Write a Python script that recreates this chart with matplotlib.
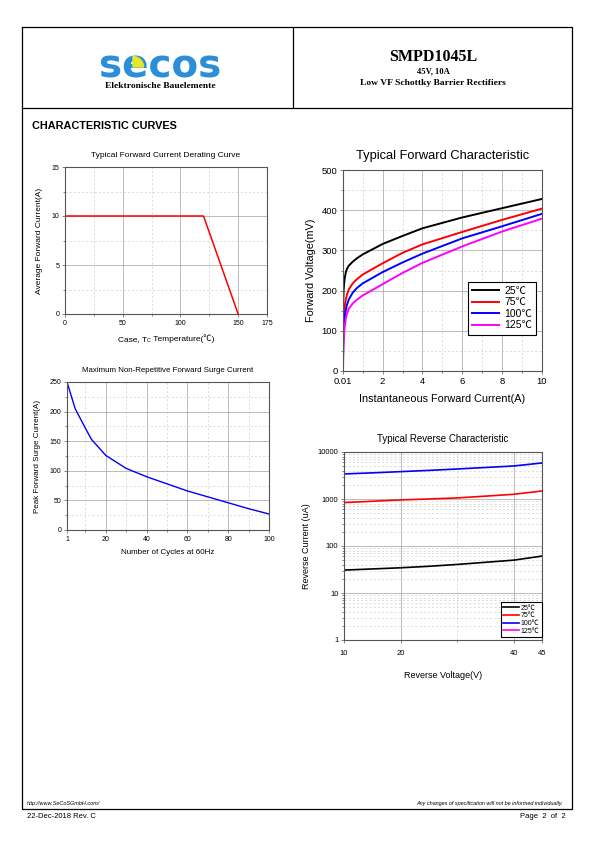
import matplotlib
matplotlib.use('Agg')
import matplotlib.pyplot as plt
from matplotlib.patches import Wedge
from matplotlib.ticker import LogLocator, NullFormatter
from matplotlib.offsetbox import TextArea, HPacker, AnchoredOffsetbox

plt.rcParams['font.family'] = ['Liberation Sans', 'Noto Sans CJK SC', 'DejaVu Sans']

# --- data ---
derate_temp = [0, 120, 150]
derate_amps = [10, 10, 0]

surge_cycles = [1, 5, 10, 13, 20, 30, 40, 50, 60, 70, 80, 90, 100]
surge_amps = [250, 205, 172, 153, 126, 104, 90, 78, 66, 56, 46, 36, 27]

fwd_current = [0.01, 0.02, 0.04, 0.07, 0.1, 0.15, 0.2, 0.3, 0.5, 0.7, 1, 2, 3, 4, 6, 8, 10]
fwd_25 = [120, 170, 200, 220, 232, 245, 253, 262, 272, 280, 290, 316, 336, 355, 382, 405, 428]
fwd_75 = [50, 90, 125, 150, 163, 178, 188, 203, 218, 228, 240, 268, 294, 315, 346, 376, 404]
fwd_100 = [25, 60, 95, 120, 135, 152, 163, 178, 195, 206, 218, 246, 270, 292, 330, 360, 391]
fwd_125 = [0, 35, 70, 97, 112, 130, 141, 155, 168, 177, 188, 216, 244, 269, 310, 347, 379]
fwd_labels = ['25℃', '75℃', '100℃', '125℃']
fwd_colors = ['black', 'red', 'blue', 'magenta']

rev_voltage = [10, 15, 20, 25, 30, 35, 40, 45]
rev_25 = [30.7, 32.5, 34.4, 37, 40.5, 45, 50, 61]
rev_75 = [840, 895, 956, 1000, 1055, 1150, 1260, 1480]
rev_100 = [3410, 3600, 3820, 4060, 4350, 4680, 5040, 5840]

W, H = 595, 842
fig = plt.figure(figsize=(W / 100, H / 100), dpi=100)

# page furniture drawn in pixel coordinates (y grows downwards)
page = fig.add_axes([0, 0, 1, 1], zorder=0)
page.set_xlim(0, W)
page.set_ylim(H, 0)
page.axis('off')

lk = dict(color='black', lw=0.9)
page.plot([22, 572, 572, 22, 22], [27, 27, 809, 809, 27], **lk)
page.plot([22, 572], [108, 108], **lk)
page.plot([293, 293], [27, 108], **lk)

page.text(160, 77, 'secos', ha='center', va='baseline', fontsize=28, fontweight='heavy',
          family='DejaVu Sans', color='#2a8fd8')
# yellow quarter on the "e" (angles run clockwise because y is flipped)
page.add_patch(Wedge((133, 67), 10.5, -90, 0, color='#e6e62a', zorder=3))
serif = dict(family='Liberation Serif', fontweight='bold', ha='center', va='center')
page.text(160, 86.5, 'Elektronische Bauelemente', fontsize=6.8, **serif)
page.text(433, 57, 'SMPD1045L', fontsize=11.5, **serif)
page.text(433, 71, '45V, 10A', fontsize=6.2, **serif)
page.text(433, 83, 'Low VF Schottky Barrier Rectifiers', fontsize=6.8, **serif)

page.text(32, 126, 'CHARACTERISTIC CURVES', fontsize=7.8, fontweight='bold', va='center')

page.text(27, 803, 'http://www.SeCoSGmbH.com/', fontsize=4, style='italic', va='center')
page.text(563, 803, 'Any changes of specification will not be informed individually.',
          fontsize=4, style='italic', va='center', ha='right')
page.text(27, 817, '22-Dec-2018 Rev. C', fontsize=5.5, va='center')
page.text(566, 817, 'Page  2  of  2', fontsize=5.5, va='center', ha='right')


def box(l, t, r, b):
    return fig.add_axes([l / W, 1 - b / H, (r - l) / W, (b - t) / H])


def style(ax, size):
    ax.grid(which='major', color='#b0b0b0', lw=0.6, ls='-')
    ax.grid(which='minor', color='#cfcfcf', lw=0.5, ls=(0, (3, 3)))
    ax.set_axisbelow(True)
    for s in ax.spines.values():
        s.set_color('#555555')
        s.set_linewidth(0.8)
    ax.tick_params(which='both', labelsize=size, length=2, width=0.5, color='#555555', pad=2)
    ax.tick_params(which='minor', length=1.5)


# derating curve
ax1 = box(65, 167, 267, 314)
ax1.plot(derate_temp, derate_amps, color='red', lw=1.1)
ax1.set_xlim(0, 175)
ax1.set_ylim(0, 15)
ax1.set_xticks([0, 50, 100, 150, 175])
ax1.set_xticks([25, 75, 125], minor=True)
ax1.set_yticks([0, 5, 10, 15])
ax1.set_yticks([2.5, 7.5, 12.5], minor=True)
style(ax1, 5)
ax1.set_title('Typical Forward Current Derating Curve', fontsize=6, pad=7)
ax1.set_ylabel('Average Forward Current(A)', fontsize=6, labelpad=6)
tp = dict(fontsize=6)
lab = HPacker(children=[TextArea('Case, T', textprops=tp),
                        TextArea('C', textprops=dict(fontsize=4)),
                        TextArea(' Temperature(℃)', textprops=tp)],
              align='bottom', pad=0, sep=0)
ax1.add_artist(AnchoredOffsetbox(loc='center', child=lab, frameon=False, pad=0, borderpad=0,
                                 bbox_to_anchor=(0.5, -0.165), bbox_transform=ax1.transAxes))

# surge current
ax2 = box(67, 382, 269, 530)
ax2.plot(surge_cycles, surge_amps, color='blue', lw=1)
ax2.set_xlim(1, 100)
ax2.set_ylim(0, 250)
ax2.set_xticks([1, 20, 40, 60, 80, 100])
ax2.set_xticks([10, 30, 50, 70, 90], minor=True)
ax2.set_yticks(range(0, 251, 50))
ax2.set_yticks(range(25, 250, 50), minor=True)
style(ax2, 5)
ax2.set_title('Maximum Non-Repetitive Forward Surge Current', fontsize=5.7, pad=7)
ax2.set_ylabel('Peak Forward Surge Current(A)', fontsize=5.8, labelpad=6)
ax2.set_xlabel('Number of Cycles at 60Hz', fontsize=5.8, labelpad=5)

# forward characteristic
ax3 = box(343, 170, 542, 371)
for ys, c, lbl in zip([fwd_25, fwd_75, fwd_100, fwd_125], fwd_colors, fwd_labels):
    ax3.plot(fwd_current, ys, color=c, lw=1.4, label=lbl)
ax3.set_xlim(0.01, 10)
ax3.set_ylim(0, 500)
ax3.set_xticks([0.01, 2, 4, 6, 8, 10], labels=['0.01', '2', '4', '6', '8', '10'])
ax3.set_xticks([1, 3, 5, 7, 9], minor=True)
ax3.set_yticks(range(0, 501, 100))
ax3.set_yticks(range(50, 500, 100), minor=True)
style(ax3, 6.8)
ax3.set_title('Typical Forward Characteristic', fontsize=9.3, pad=8)
ax3.set_ylabel('Forward Voltage(mV)', fontsize=7.8, labelpad=4)
ax3.set_xlabel('Instantaneous Forward Current(A)', fontsize=7.8, labelpad=6)
leg = ax3.legend(loc='lower right', bbox_to_anchor=(0.997, 0.155), fontsize=7.5,
                 fancybox=False, edgecolor='black', framealpha=1, handlelength=2.6,
                 labelspacing=0.15, borderpad=0.4, handletextpad=0.5)
leg.get_frame().set_linewidth(0.8)

# reverse characteristic
ax4 = box(344, 452, 542, 640)
ax4.plot(rev_voltage, rev_25, color='black', lw=1.2, label='25℃')
ax4.plot(rev_voltage, rev_75, color='red', lw=1.2, label='75℃')
ax4.plot(rev_voltage, rev_100, color='blue', lw=1.2, label='100℃')
ax4.plot([], [], color='magenta', lw=1.2, label='125℃')
ax4.set_yscale('log')
ax4.set_xlim(10, 45)
ax4.set_ylim(1, 10000)
ax4.set_xticks([10, 20, 40, 45])
ax4.set_xticks([30], minor=True)
ax4.set_yticks([1, 10, 100, 1000, 10000], labels=['1', '10', '100', '1000', '10000'])
ax4.yaxis.set_minor_locator(LogLocator(subs=range(2, 10)))
ax4.yaxis.set_minor_formatter(NullFormatter())
style(ax4, 5.5)
ax4.tick_params(axis='x', pad=5)
ax4.set_title('Typical Reverse Characteristic', fontsize=7, pad=7)
ax4.set_ylabel('Reverse Current (uA)', fontsize=6.5, labelpad=5)
ax4.set_xlabel('Reverse Voltage(V)', fontsize=6.5, labelpad=10)
leg = ax4.legend(loc='lower right', bbox_to_anchor=(1.0, 0.015), fontsize=5,
                 fancybox=False, edgecolor='black', framealpha=1, handlelength=2.2,
                 labelspacing=0.1, borderpad=0.35, handletextpad=0.3, borderaxespad=0)
leg.get_frame().set_linewidth(0.8)

fig.savefig('out.png', dpi=100)
